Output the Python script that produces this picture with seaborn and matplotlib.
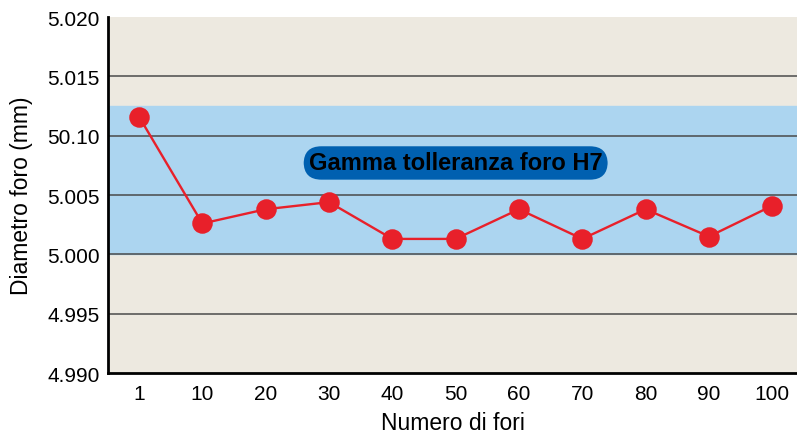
import matplotlib
matplotlib.use("Agg")
import matplotlib.pyplot as plt
import numpy as np
import pandas as pd
import seaborn as sns

# data
holes = ["1", "10", "20", "30", "40", "50", "60", "70", "80", "90", "100"]
diameter = [5.0116, 5.0026, 5.0038, 5.0044, 5.0013, 5.0013,
            5.0038, 5.0013, 5.0038, 5.0015, 5.0041]
yticks = [4.990, 4.995, 5.000, 5.005, 5.010, 5.015, 5.020]
yticklabels = ["4.990", "4.995", "5.000", "5.005", "50.10", "5.015", "5.020"]
band_low, band_high = 5.000, 5.0125
band_label = "Gamma tolleranza foro H7"

df = pd.DataFrame({"fori": holes, "diametro": diameter})

sns.set_style("white")
plt.rcParams["font.family"] = ["Liberation Sans", "DejaVu Sans"]

fig = plt.figure(figsize=(7.97, 4.35), dpi=100)
ax = fig.add_axes([0.1355, 0.1402, 0.8645, 0.8184])
ax.set_facecolor("#EDE9E0")

ax.axhspan(band_low, band_high, color="#ACD5F0", zorder=0)
for y in yticks[1:-1]:
    ax.axhline(y, color="#4a4a4a", lw=1.1, zorder=1)

sns.pointplot(data=df, x="fori", y="diametro", color="#E8202A",
              errorbar=None, markersize=13.5, linewidth=1.7, ax=ax, zorder=3)

ax.text(5, 5.0077, band_label, ha="center", va="center", fontsize=17,
        fontweight="bold", color="black", zorder=4,
        bbox=dict(boxstyle="round,pad=0.22,rounding_size=0.75",
                  fc="#0060B0", ec="none"))

ax.set_xlim(-0.49, 10.39)
ax.set_ylim(4.990, 5.020)
ax.set_yticks(yticks)
ax.set_yticklabels(yticklabels)
ax.tick_params(axis="both", direction="in", length=6, width=1.5,
               labelsize=15, colors="black", pad=6)
ax.tick_params(axis="x", pad=8)
ax.set_xlabel("Numero di fori", fontsize=16.5, labelpad=6, color="black")
ax.set_ylabel("Diametro foro (mm)", fontsize=16.5, labelpad=10, color="black")

for s in ["top", "right"]:
    ax.spines[s].set_visible(False)
for s in ["left", "bottom"]:
    ax.spines[s].set_color("black")
    ax.spines[s].set_linewidth(2)

fig.savefig("out.png", dpi=100)
